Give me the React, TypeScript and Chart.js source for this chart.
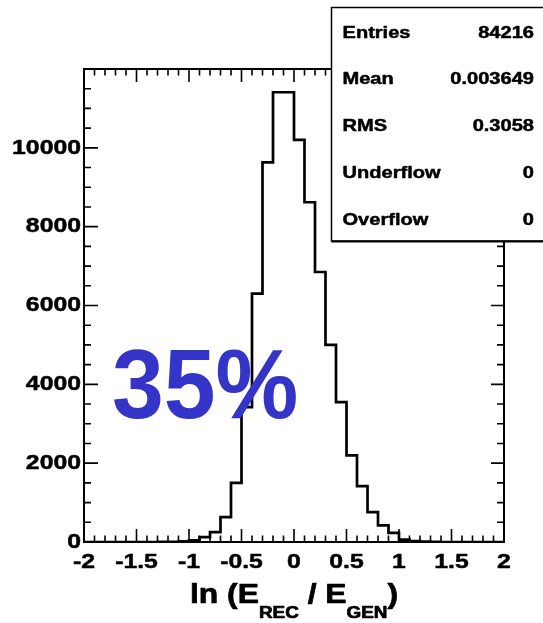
import React, { useEffect, useRef } from "react";
import { Chart, registerables } from "chart.js";

Chart.register(...registerables);

// Histogram of ln(E_REC / E_GEN): 40 bins of width 0.1 from -2 to 2
const binLowEdges = [
  -2.0, -1.9, -1.8, -1.7, -1.6, -1.5, -1.4, -1.3, -1.2, -1.1,
  -1.0, -0.9, -0.8, -0.7, -0.6, -0.5, -0.4, -0.3, -0.2, -0.1,
  0.0, 0.1, 0.2, 0.3, 0.4, 0.5, 0.6, 0.7, 0.8, 0.9,
  1.0, 1.1, 1.2, 1.3, 1.4, 1.5, 1.6, 1.7, 1.8, 1.9,
];
const binUpperEdge = 2.0;
const binCounts = [
  0, 0, 0, 0, 0, 0, 0, 2, 5, 15,
  45, 125, 250, 630, 1500, 3420, 6300, 9630, 11410, 11410,
  10200, 8620, 6850, 5000, 3550, 2200, 1420, 760, 420, 230,
  60, 20, 8, 3, 0, 0, 0, 0, 0, 0,
];

const xRange = [-2, 2];
const yRange = [0, 12000];
const xTickValues = [-2, -1.5, -1, -0.5, 0, 0.5, 1, 1.5, 2];
const xTickLabels = ["-2", "-1.5", "-1", "-0.5", "0", "0.5", "1", "1.5", "2"];
const yTickValues = [0, 2000, 4000, 6000, 8000, 10000];
const yTickLabels = ["0", "2000", "4000", "6000", "8000", "10000"];

const statNames = ["Entries", "Mean", "RMS", "Underflow", "Overflow"];
const statValues = ["84216", "0.003649", "0.3058", "0", "0"];
const titleParts = [
  { text: "ln (E", sub: false },
  { text: "REC", sub: true },
  { text: " / E", sub: false },
  { text: "GEN", sub: true },
  { text: ")", sub: false },
];
const bigLabel = "35%";

const FONT = "'Liberation Sans', Arial, Helvetica, sans-serif";
const SX = 1.18; // horizontal stretch of the axis and stats lettering

function stretchedWidth(ctx: CanvasRenderingContext2D, text: string, font: string, sx: number) {
  ctx.font = font;
  return ctx.measureText(text).width * sx;
}

function drawStretched(
  ctx: CanvasRenderingContext2D,
  text: string,
  x: number,
  y: number,
  font: string,
  align: "left" | "right" | "center",
  sx: number,
  baseline: CanvasTextBaseline = "alphabetic",
  weight = 0.5
) {
  ctx.font = font;
  const w = ctx.measureText(text).width * sx;
  let x0 = x;
  if (align === "right") x0 = x - w;
  else if (align === "center") x0 = x - w / 2;
  ctx.save();
  ctx.translate(x0, y);
  ctx.scale(sx, 1);
  ctx.textAlign = "left";
  ctx.textBaseline = baseline;
  ctx.fillText(text, 0, 0);
  if (weight > 0) {
    // slight outline for a heavier stroke
    ctx.strokeStyle = ctx.fillStyle as string;
    ctx.lineWidth = weight;
    ctx.lineJoin = "round";
    ctx.strokeText(text, 0, 0);
  }
  ctx.restore();
}

const frameAndDecor = {
  id: "frameAndDecor",
  afterDatasetsDraw(chart: any) {
    const ctx: CanvasRenderingContext2D = chart.ctx;
    const xs = chart.scales.x;
    const ys = chart.scales.y;
    const { left, right, top, bottom } = chart.chartArea;

    ctx.save();
    ctx.strokeStyle = "#000";
    ctx.fillStyle = "#000";

    // frame
    ctx.lineWidth = 2;
    ctx.strokeRect(left, top, right - left, bottom - top);

    // inward tick marks on all four sides
    ctx.lineWidth = 1.6;
    ctx.beginPath();
    for (let i = -20; i <= 20; i++) {
      const v = i / 10;
      const px = xs.getPixelForValue(v);
      const len = i % 5 === 0 ? 13 : 6.5;
      ctx.moveTo(px, bottom);
      ctx.lineTo(px, bottom - len);
      ctx.moveTo(px, top);
      ctx.lineTo(px, top + len);
    }
    for (let i = 0; i <= 24; i++) {
      const v = i * 500;
      const py = ys.getPixelForValue(v);
      const major = i % 4 === 0;
      ctx.moveTo(left, py);
      ctx.lineTo(left + (major ? 14 : 7), py);
      ctx.moveTo(right, py);
      ctx.lineTo(right - (major ? 13 : 7), py);
    }
    ctx.stroke();

    // tick labels
    const tickFont = `bold 21px ${FONT}`;
    xTickValues.forEach((v, i) => {
      drawStretched(ctx, xTickLabels[i], xs.getPixelForValue(v), 568, tickFont, "center", SX);
    });
    yTickValues.forEach((v, i) => {
      drawStretched(ctx, yTickLabels[i], left - 3, ys.getPixelForValue(v), tickFont, "right", SX, "middle");
    });

    // axis title with subscripts
    const mainFont = `bold 27px ${FONT}`;
    const subFont = `bold 16px ${FONT}`;
    let total = 0;
    const widths = titleParts.map((p) => {
      const w = stretchedWidth(ctx, p.text, p.sub ? subFont : mainFont, SX);
      total += w;
      return w;
    });
    let cx = (left + right) / 2 - total / 2;
    titleParts.forEach((p, i) => {
      drawStretched(ctx, p.text, cx, p.sub ? 618 : 603, p.sub ? subFont : mainFont, "left", SX, "alphabetic", 0.7);
      cx += widths[i];
    });

    // statistics box
    const bx = 331.5;
    const by = 7.5;
    const bw = 260;
    const bh = 233.5;
    ctx.fillStyle = "#fff";
    ctx.fillRect(bx, by, bw, bh);
    ctx.strokeStyle = "#000";
    ctx.lineWidth = 1.5;
    ctx.strokeRect(bx, by, bw, bh);
    ctx.lineWidth = 2;
    ctx.beginPath();
    ctx.moveTo(bx, by + bh + 0.5);
    ctx.lineTo(bx + bw, by + bh + 0.5);
    ctx.stroke();
    ctx.fillStyle = "#000";
    const statFont = `bold 17px ${FONT}`;
    statNames.forEach((name, i) => {
      const yb = 37.5 + i * 46.9;
      drawStretched(ctx, name, 342.5, yb, statFont, "left", SX);
      drawStretched(ctx, statValues[i], 534, yb, statFont, "right", SX);
    });

    // large annotation
    ctx.fillStyle = "#3434c8";
    drawStretched(ctx, bigLabel, 112, 418, `bold 98px ${FONT}`, "left", 0.95, "alphabetic", 0);

    ctx.restore();
  },
};

export default function App() {
  const canvasRef = useRef<HTMLCanvasElement | null>(null);

  useEffect(() => {
    const canvas = canvasRef.current;
    if (!canvas) return;

    const points = binLowEdges.map((x, i) => ({ x, y: binCounts[i] }));
    points.push({ x: binUpperEdge, y: binCounts[binCounts.length - 1] });

    const chart = new Chart(canvas, {
      type: "line",
      data: {
        datasets: [
          {
            data: points,
            stepped: true,
            borderColor: "#000",
            borderWidth: 2.7,
            pointRadius: 0,
            fill: false,
            tension: 0,
          },
        ],
      },
      options: {
        animation: false,
        responsive: false,
        devicePixelRatio: 1,
        parsing: false,
        layout: { padding: { left: 84, right: 39, top: 69, bottom: 81 } },
        plugins: {
          legend: { display: false },
          tooltip: { enabled: false },
        },
        scales: {
          x: { type: "linear", min: xRange[0], max: xRange[1], display: false },
          y: { type: "linear", min: yRange[0], max: yRange[1], display: false },
        },
      },
      plugins: [frameAndDecor],
    });

    return () => chart.destroy();
  }, []);

  return (
    <div style={{ position: "absolute", left: 0, top: 0, width: 543, height: 623, background: "#fff" }}>
      <canvas ref={canvasRef} width={543} height={623} style={{ display: "block" }} />
    </div>
  );
}
